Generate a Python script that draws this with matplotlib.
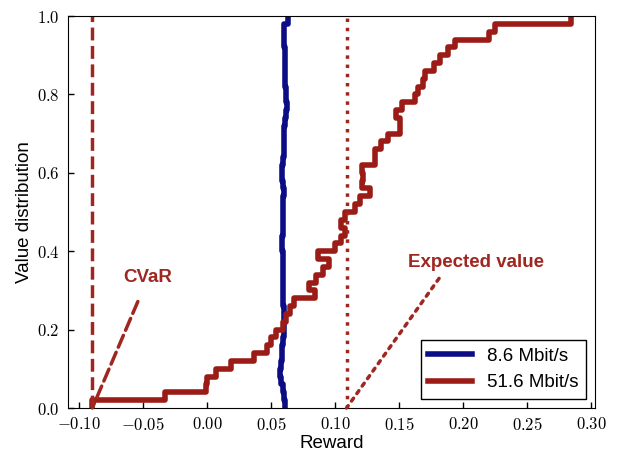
import numpy as np
import matplotlib
matplotlib.use("Agg")
import matplotlib.pyplot as plt
from matplotlib.ticker import FuncFormatter

plt.rcParams["font.family"] = ["Liberation Sans", "DejaVu Sans"]
plt.rcParams["mathtext.fontset"] = "cm"

# niveis dos quantis (eixo y)
niveis = [0.00, 0.02, 0.04, 0.06, 0.08, 0.10, 0.12, 0.14, 0.16, 0.18,
          0.20, 0.22, 0.24, 0.26, 0.28, 0.30, 0.32, 0.34, 0.36, 0.38,
          0.40, 0.42, 0.44, 0.46, 0.48, 0.50, 0.52, 0.54, 0.56, 0.58,
          0.60, 0.62, 0.64, 0.66, 0.68, 0.70, 0.72, 0.74, 0.76, 0.78,
          0.80, 0.82, 0.84, 0.86, 0.88, 0.90, 0.92, 0.94, 0.96, 0.98,
          1.00]

# quantis da recompensa, 8.6 Mbit/s
q_baixo = [0.0609, 0.0602, 0.0594, 0.0578, 0.0570, 0.0578, 0.0586, 0.0586, 0.0594, 0.0602,
           0.0602, 0.0602, 0.0598, 0.0594, 0.0594, 0.0594, 0.0594, 0.0590, 0.0590, 0.0590,
           0.0586, 0.0586, 0.0594, 0.0594, 0.0594, 0.0594, 0.0594, 0.0598, 0.0594, 0.0586,
           0.0582, 0.0594, 0.0598, 0.0602, 0.0602, 0.0598, 0.0609, 0.0617, 0.0625, 0.0617,
           0.0617, 0.0613, 0.0613, 0.0609, 0.0609, 0.0609, 0.0605, 0.0602, 0.0598, 0.0633]

# quantis da recompensa, 51.6 Mbit/s
q_alto = [-0.0895, -0.0330, -0.0005, 0.0000, 0.0070, 0.0190, 0.0370, 0.0470, 0.0500, 0.0540,
          0.0590, 0.0620, 0.0650, 0.0680, 0.0840, 0.0795, 0.0850, 0.0910, 0.0950, 0.0870,
          0.1000, 0.1050, 0.1080, 0.1050, 0.1080, 0.1156, 0.1195, 0.1270, 0.1210, 0.1215,
          0.1210, 0.1310, 0.1310, 0.1360, 0.1417, 0.1510, 0.1510, 0.1480, 0.1520, 0.1625,
          0.1650, 0.1690, 0.1700, 0.1770, 0.1820, 0.1885, 0.1940, 0.2206, 0.2250, 0.2844]

cvar = -0.0896
valor_esperado = 0.1090

azul = "#0c0c84"
vermelho = "#9b1c16"
marrom = "#a02620"

fig = plt.figure(figsize=(6.21, 4.54), dpi=100)
ax = fig.add_axes([0.1095, 0.1013, 0.8486, 0.8634])

ax.plot(q_baixo + [q_baixo[-1]], niveis, drawstyle="steps-pre",
        color=azul, lw=4, label="8.6 Mbit/s")
ax.plot(q_alto + [q_alto[-1]], niveis, drawstyle="steps-pre",
        color=vermelho, lw=4, label="51.6 Mbit/s")

ax.axvline(cvar, color=marrom, ls="--", lw=2.5)
ax.axvline(valor_esperado, color=marrom, ls=":", lw=2.5)

ax.annotate("CVaR", xy=(cvar, 0), xytext=(-0.046, 0.333),
            ha="center", va="center", color=marrom, fontsize=13.5, fontweight="bold",
            arrowprops=dict(arrowstyle="-", ls="--", lw=2.5, color=marrom,
                            shrinkA=10, shrinkB=0))
ax.annotate("Expected value", xy=(valor_esperado, 0), xytext=(0.2098, 0.371),
            ha="center", va="center", color=marrom, fontsize=13.5, fontweight="bold",
            arrowprops=dict(arrowstyle="-", ls=":", lw=2.5, color=marrom,
                            shrinkA=4, shrinkB=0, relpos=(0.27, 0.0)))

ax.set_xlim(-0.1086, 0.3031)
ax.set_ylim(0, 1)
ax.set_xticks([-0.10, -0.05, 0.00, 0.05, 0.10, 0.15, 0.20, 0.25, 0.30])
ax.set_yticks([0.0, 0.2, 0.4, 0.6, 0.8, 1.0])
ax.xaxis.set_major_formatter(FuncFormatter(lambda v, p: "$%.2f$" % v))
ax.yaxis.set_major_formatter(FuncFormatter(lambda v, p: "$%.1f$" % v))
ax.tick_params(direction="in", length=4, width=1, labelsize=12, pad=6)

ax.set_xlabel("Reward", fontsize=13.5, labelpad=1)
ax.set_ylabel("Value distribution", fontsize=13.5, labelpad=3)

leg = ax.legend(loc="lower right", fontsize=13.5, fancybox=False,
                edgecolor="black", framealpha=1, handlelength=2.3)
leg.get_frame().set_linewidth(1.0)

fig.savefig("out.png", dpi=100)
